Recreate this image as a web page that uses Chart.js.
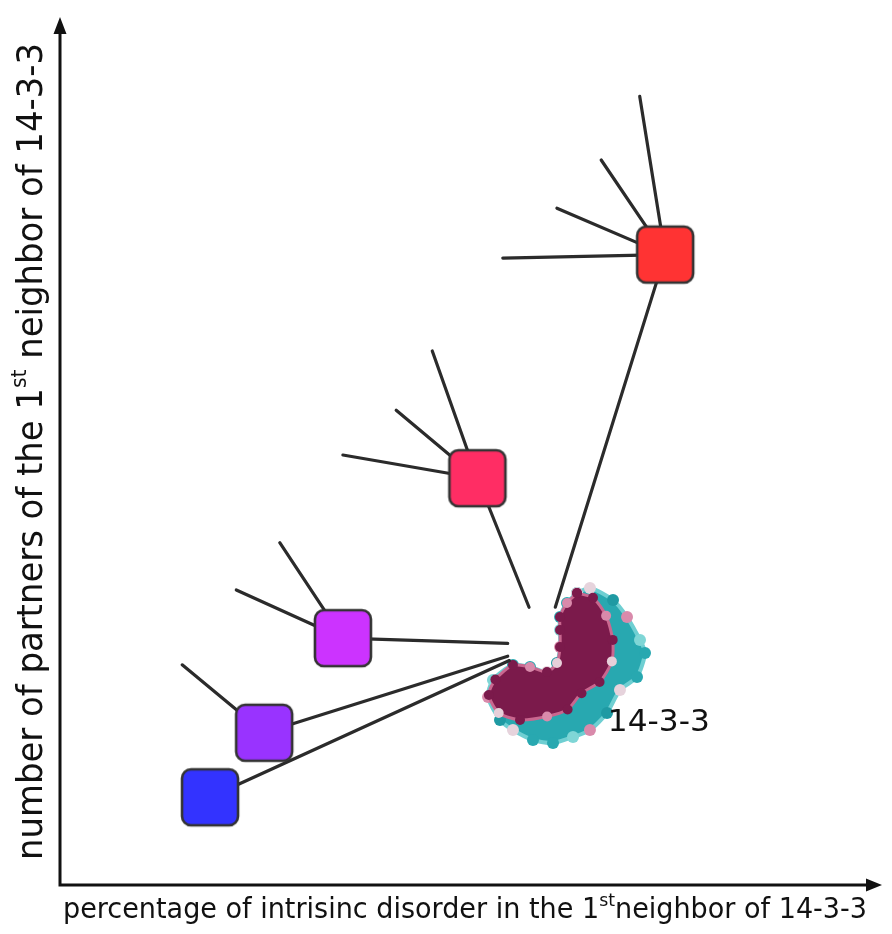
<!DOCTYPE html>
<html lang="en">
<head>
  <meta charset="UTF-8">
  <title>14-3-3 neighbours sketch</title>
  <script src="https://cdn.jsdelivr.net/npm/chart.js"></script>
  <style>
    body {
      margin: 0;
      background: #ffffff;
    }
    #sketch {
      display: block;
    }
  </style>
</head>
<body>
  <canvas id="sketch" width="892" height="934"></canvas>

  <script>
    // node positions: x = % intrinsic disorder, y = number of partners (arbitrary 0-100 units)
    const nodeNames = ['n1', 'n2', 'n3', 'n4', 'n5'];
    const disorderPct = [18.3, 24.9, 34.5, 50.9, 73.8];
    const partnerCount = [10.2, 17.7, 28.7, 47.3, 73.3];

    // free ends of each node's partner spokes
    const spokeEnds = [
      [],
      [[14.9, 25.6]],
      [[26.8, 39.8], [21.5, 34.3]],
      [[45.4, 62.1], [41.0, 55.2], [34.5, 50.0]],
      [[70.7, 91.7], [66.0, 84.3], [60.6, 78.7], [54.0, 72.9]]
    ];
    // where each node's link to 14-3-3 stops
    const hubEnds = [[54.8, 26.1], [54.6, 26.6], [54.6, 28.1], [57.2, 32.3], [60.4, 32.3]];

    // 14-3-3 surface outline and its dark core
    const proteinOuter = [[63.05, 33.95], [64.63, 34.53], [67.44, 33.14], [69.15, 31.16], [70.73, 28.49],
      [71.34, 26.98], [70.37, 24.19], [68.29, 22.67], [66.71, 20.0], [64.63, 18.02], [62.56, 17.21],
      [60.12, 16.51], [57.68, 16.86], [55.24, 18.02], [53.66, 19.19], [52.2, 21.86], [52.8, 23.84],
      [55.24, 25.58], [57.32, 25.35], [59.39, 24.77], [60.61, 25.81], [60.98, 27.67], [60.98, 29.65],
      [60.98, 31.16], [61.83, 32.79]];
    const proteinCore = [[63.05, 33.95], [65.0, 33.4], [66.6, 31.3], [67.4, 28.5], [67.3, 26.0],
      [65.8, 23.6], [63.6, 22.3], [61.9, 20.4], [59.4, 19.6], [56.1, 19.2], [53.5, 20.0],
      [52.3, 22.1], [53.1, 23.9], [55.24, 25.58], [57.32, 25.35], [59.39, 24.77], [60.61, 25.81],
      [60.98, 27.67], [60.98, 29.65], [60.98, 31.16], [61.83, 32.79]];

    const nodeColors = ['#3333ff', '#9933ff', '#cc33ff', '#ff2d64', '#ff3333'];
    const ink = '#2b2b2b';

    // rounded square marker drawn once per colour
    function makeSquare(color) {
      const c = document.createElement('canvas');
      c.width = 62; c.height = 62;
      const g = c.getContext('2d');
      g.fillStyle = color;
      g.strokeStyle = '#333';
      g.lineWidth = 2.6;
      g.beginPath();
      g.roundRect(3, 3, 56, 56, 9);
      g.fill();
      g.stroke();
      return c;
    }

    const toXY = p => ({ x: p[0], y: p[1] });
    const closed = arr => arr.concat([arr[0]]).map(toXY);

    const datasets = [];

    datasets.push({
      label: 'nodes',
      data: nodeNames.map((n, i) => ({ x: disorderPct[i], y: partnerCount[i] })),
      pointStyle: nodeColors.map(makeSquare),
      pointRadius: 30,
      showLine: false,
      order: 0
    });

    nodeNames.forEach((n, i) => {
      const c = { x: disorderPct[i], y: partnerCount[i] };
      spokeEnds[i].concat([hubEnds[i]]).forEach(e => {
        datasets.push({
          label: n + ' link',
          data: [c, toXY(e)],
          showLine: true,
          borderColor: ink,
          borderWidth: 3.2,
          borderCapStyle: 'round',
          pointRadius: 0,
          order: 1
        });
      });
    });

    datasets.push({
      label: '14-3-3 core',
      data: closed(proteinCore),
      showLine: true,
      fill: 'shape',
      tension: 0.25,
      backgroundColor: '#7b1a4b',
      borderColor: '#c9678f',
      borderWidth: 3,
      pointRadius: 5,
      pointBorderWidth: 0,
      pointBackgroundColor: ['#7b1a4b', '#7b1a4b', '#d98aab', '#7b1a4b', '#e7cfd9', '#7b1a4b'],
      order: 2
    });
    datasets.push({
      label: '14-3-3 surface',
      data: closed(proteinOuter),
      showLine: true,
      fill: 'shape',
      tension: 0.25,
      backgroundColor: '#28a8b0',
      borderColor: '#6fcfd2',
      borderWidth: 4,
      pointRadius: 6,
      pointBorderWidth: 0,
      pointBackgroundColor: ['#28a8b0', '#e6d3dc', '#1f9aa3', '#d98aab', '#7fd6d6', '#28a8b0'],
      order: 3
    });

    // draws text made of pieces (for the superscripts), squeezed to a given length
    function supText(ctx, parts, length) {
      let total = 0;
      parts.forEach(p => {
        ctx.font = p.size + 'px "DejaVu Sans"';
        p.w = ctx.measureText(p.t).width;
        total += p.w;
      });
      ctx.scale(length / total, 1);
      let pos = 0;
      parts.forEach(p => {
        ctx.font = p.size + 'px "DejaVu Sans"';
        ctx.fillText(p.t, pos, -(p.rise || 0));
        pos += p.w;
      });
    }

    const sketchDecor = {
      id: 'sketchDecor',
      beforeDatasetsDraw(chart) {
        const { ctx, scales: { x, y } } = chart;
        const x0 = x.getPixelForValue(0);
        const y0 = y.getPixelForValue(0);
        const xEnd = x.getPixelForValue(100);
        const yEnd = y.getPixelForValue(100);
        ctx.save();
        ctx.strokeStyle = '#111';
        ctx.fillStyle = '#111';
        ctx.lineWidth = 3;
        ctx.beginPath();
        ctx.moveTo(x0, y0 + 1.5);
        ctx.lineTo(x0, yEnd + 4);
        ctx.moveTo(x0 - 1.5, y0);
        ctx.lineTo(xEnd - 10, y0);
        ctx.stroke();
        ctx.beginPath();
        ctx.moveTo(x0, yEnd - 8);
        ctx.lineTo(x0 - 6.5, yEnd + 9);
        ctx.lineTo(x0 + 6.5, yEnd + 9);
        ctx.closePath();
        ctx.moveTo(xEnd + 2, y0);
        ctx.lineTo(xEnd - 14, y0 - 6.5);
        ctx.lineTo(xEnd - 14, y0 + 6.5);
        ctx.closePath();
        ctx.fill();
        ctx.restore();
      },
      afterDraw(chart) {
        const { ctx, scales: { x, y } } = chart;
        ctx.save();
        ctx.fillStyle = '#111';
        ctx.textBaseline = 'alphabetic';

        ctx.save();
        ctx.translate(63, 918);
        supText(ctx, [
          { t: 'percentage of intrisinc disorder in the 1', size: 28 },
          { t: 'st', size: 18, rise: 12 },
          { t: 'neighbor of 14-3-3', size: 28 }
        ], 804);
        ctx.restore();

        ctx.save();
        ctx.translate(42, 860);
        ctx.rotate(-Math.PI / 2);
        supText(ctx, [
          { t: 'number of partners of the 1', size: 35 },
          { t: 'st', size: 21, rise: 16 },
          { t: ' neighbor of 14-3-3', size: 35 }
        ], 817);
        ctx.restore();

        ctx.save();
        ctx.translate(x.getPixelForValue(66.8), y.getPixelForValue(17.9));
        supText(ctx, [{ t: '14-3-3', size: 31 }], 102);
        ctx.restore();

        ctx.restore();
      }
    };

    new Chart(document.getElementById('sketch').getContext('2d'), {
      type: 'scatter',
      data: { datasets },
      options: {
        responsive: false,
        animation: false,
        layout: { autoPadding: false, padding: { left: 60, right: 12, top: 25, bottom: 49 } },
        plugins: {
          legend: { display: false },
          tooltip: { enabled: false }
        },
        scales: {
          x: { type: 'linear', min: 0, max: 100, display: false },
          y: { type: 'linear', min: 0, max: 100, display: false }
        }
      },
      plugins: [sketchDecor]
    });
  </script>
</body>
</html>
